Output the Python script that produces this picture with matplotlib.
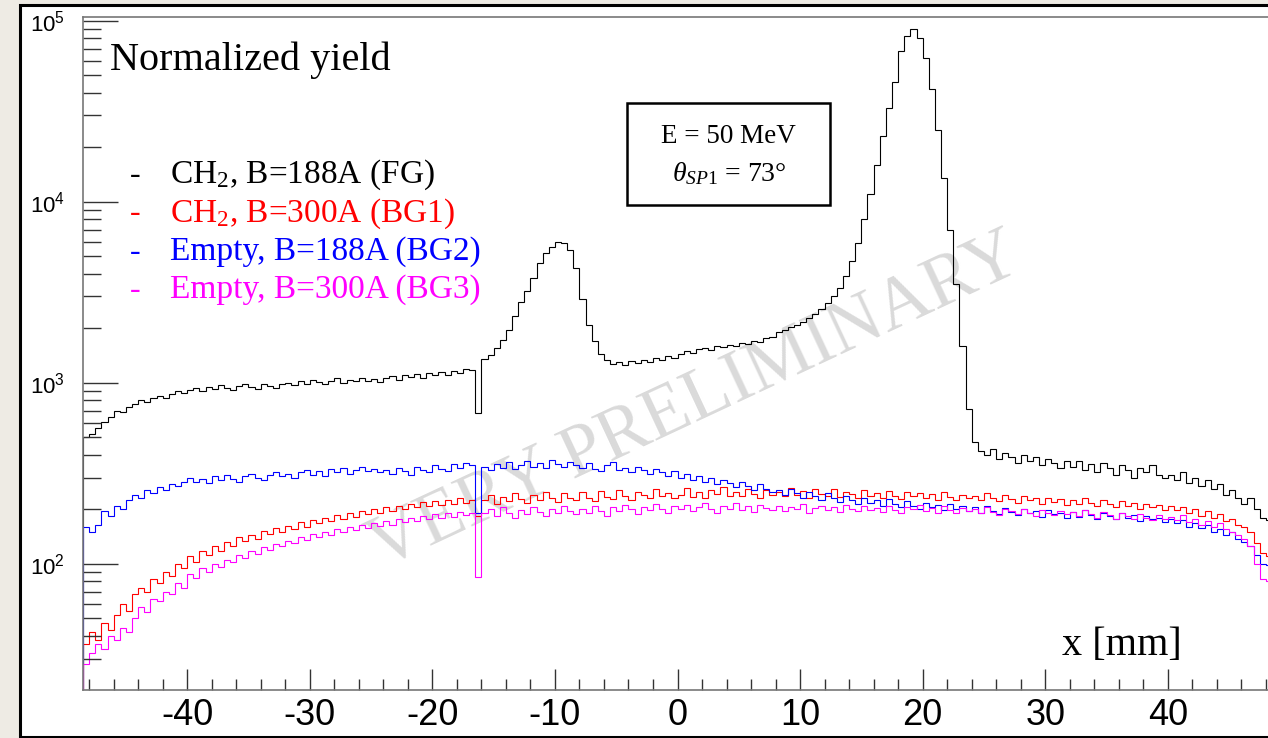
import numpy as np
import matplotlib
matplotlib.use('Agg')
from matplotlib import pyplot as plt
from matplotlib.patches import Rectangle
from matplotlib.ticker import MultipleLocator, LogLocator, FuncFormatter, NullFormatter

plt.rcParams['font.family'] = ['Liberation Sans', 'DejaVu Sans']
plt.rcParams['axes.unicode_minus'] = False
plt.rcParams['mathtext.fontset'] = 'custom'
plt.rcParams['mathtext.rm'] = 'Liberation Serif'
plt.rcParams['mathtext.it'] = 'Liberation Serif:italic'
plt.rcParams['mathtext.bf'] = 'Liberation Serif:bold'

# bin edges in mm (0.5 mm bins)
edges = np.linspace(-48.5, 48.5, 195)

# CH2, B=188A (FG)
fg = [500,
      520, 560, 610, 650, 700, 690, 740, 760, 800, 780, 830, 850, 820, 870, 900, 880,
      910, 940, 900, 950, 930, 970, 940, 910, 960, 990, 950, 930, 980, 960, 940, 990,
      1000, 970, 1020, 990, 1040, 1010, 980, 1030, 1060, 1000, 1040, 1020, 1070, 1030, 1050, 1010,
      1060, 1090, 1040, 1100, 1080, 1120, 1070, 1130, 1110, 1150, 1100, 1170, 1140, 1200, 1180, 680,
      1350, 1420, 1550, 1720, 1950, 2350, 2800, 3200, 3800, 4600, 5200, 5600, 6000, 5900, 5400, 4300,
      2900, 2100, 1700, 1450, 1330, 1270, 1300, 1250, 1320, 1280, 1340, 1300, 1370, 1330, 1400, 1380,
      1450, 1500, 1470, 1530, 1560, 1510, 1590, 1570, 1620, 1600, 1660, 1640, 1710, 1690, 1760, 1800,
      1900, 1960, 2030, 2080, 2170, 2280, 2400, 2550, 2750, 3000, 3350, 3900, 4700, 5900, 8000, 11000,
      16000, 23000, 33000, 46000, 68000, 82000, 90000, 80000, 62000, 42000, 25000, 13500, 7000, 3500, 1600, 720,
      470, 420, 400, 430, 380, 410, 390, 360, 400, 370, 390, 350, 380, 360, 340, 370,
      345, 370, 330, 355, 320, 360, 340, 310, 350, 330, 300, 340, 320, 350, 310, 300,
      310, 290, 320, 280, 300, 270, 290, 260, 275, 240, 255, 230, 215, 230, 200, 180,
      175]

# CH2, B=300A (BG1)
bg1 = [36,
       42, 38, 47, 43, 52, 60, 55, 68, 74, 70, 82, 78, 90, 86, 100, 95,
       110, 102, 118, 112, 125, 118, 132, 126, 140, 133, 145, 138, 152, 146, 158, 150,
       162, 155, 170, 160, 175, 168, 180, 172, 186, 178, 192, 182, 196, 188, 200, 190,
       205, 195, 210, 200, 215, 205, 220, 208, 222, 212, 226, 215, 230, 218, 225, 185,
       225, 240, 215, 235, 222, 245, 228, 218, 240, 225, 250, 230, 220, 245, 232, 225,
       248, 230, 222, 252, 235, 228, 255, 238, 226, 250, 240, 232, 258, 236, 245, 230,
       240, 262, 235, 248, 230, 255, 242, 265, 236, 250, 238, 260, 244, 232, 255, 240,
       248, 236, 262, 240, 252, 232, 258, 244, 238, 260, 235, 250, 242, 230, 255, 238,
       245, 232, 252, 238, 228, 250, 236, 245, 230, 242, 226, 248, 235, 225, 240, 230,
       238, 225, 245, 230, 222, 240, 228, 218, 236, 224, 232, 215, 230, 220, 228, 212,
       225, 215, 232, 218, 210, 226, 215, 205, 222, 210, 218, 200, 215, 205, 212, 198,
       210, 198, 205, 190, 200, 185, 195, 180, 188, 172, 178, 165, 160, 150, 130, 115,
       110]

# Empty, B=188A (BG2)
bg2 = [160,
       150, 165, 195, 185, 210, 200, 225, 240, 230, 255, 245, 265, 255, 275, 270, 285,
       300, 285, 295, 280, 305, 290, 310, 295, 285, 305, 315, 300, 290, 310, 320, 305,
       315, 300, 320, 330, 310, 325, 305, 335, 320, 340, 315, 330, 345, 325, 335, 320,
       330, 315, 340, 325, 310, 345, 330, 320, 350, 335, 325, 355, 340, 360, 350, 190,
       345, 330, 355, 340, 365, 335, 350, 370, 345, 360, 340, 375, 355, 345, 365, 350,
       340, 360, 335, 325, 350, 365, 330, 340, 320, 345, 330, 315, 335, 320, 305, 325,
       300, 315, 290, 305, 285, 300, 275, 290, 280, 265, 285, 270, 255, 275, 260, 250,
       255, 240, 260, 245, 232, 250, 238, 226, 245, 230, 220, 238, 225, 215, 232, 218,
       225, 210, 228, 215, 205, 222, 210, 200, 218, 205, 212, 198, 215, 202, 208, 196,
       205, 192, 210, 196, 188, 204, 194, 186, 200, 190, 196, 182, 198, 188, 192, 180,
       194, 182, 198, 186, 178, 192, 184, 176, 190, 180, 186, 172, 184, 176, 180, 170,
       178, 168, 174, 160, 168, 158, 164, 150, 156, 144, 150, 138, 132, 125, 112, 100,
       98]

# Empty, B=300A (BG3)
bg3 = [28,
       32, 36, 34, 40, 38, 44, 42, 50, 58, 54, 64, 62, 70, 68, 78, 74,
       88, 84, 95, 90, 100, 96, 105, 102, 112, 108, 118, 114, 124, 120, 128, 125,
       134, 130, 140, 136, 146, 140, 150, 145, 156, 150, 160, 154, 164, 158, 168, 162,
       172, 165, 176, 170, 180, 172, 184, 176, 188, 180, 190, 182, 194, 186, 190, 85,
       190, 200, 185, 205, 192, 180, 198, 188, 206, 194, 185, 202, 190, 210, 196, 188,
       200, 190, 210, 195, 185, 205, 196, 212, 200, 188, 206, 198, 214, 202, 192, 208,
       200, 212, 196, 206, 218, 200, 192, 210, 202, 216, 198, 208, 194, 212, 204, 198,
       210, 196, 206, 200, 214, 192, 204, 210, 198, 206, 194, 212, 200, 196, 208, 198,
       204, 194, 210, 198, 190, 206, 200, 212, 196, 204, 192, 208, 198, 190, 204, 196,
       200, 190, 206, 194, 186, 202, 196, 188, 200, 192, 184, 198, 190, 186, 196, 188,
       194, 184, 198, 188, 180, 194, 186, 178, 192, 184, 176, 188, 180, 174, 186, 178,
       182, 174, 186, 170, 178, 164, 172, 160, 168, 156, 150, 145, 138, 125, 100, 82,
       80]

labels = [r'CH$_{\mathregular{2}}$, B=188A (FG)',
          r'CH$_{\mathregular{2}}$, B=300A (BG1)',
          'Empty, B=188A (BG2)',
          'Empty, B=300A (BG3)']
colors = ['black', '#ff0000', '#0000ff', '#ff00ff']
series = [fg, bg1, bg2, bg3]

W, H = 1268, 738
fig = plt.figure(figsize=(W / 100, H / 100), dpi=100, facecolor='#eeebe4')

# white canvas with black border
fig.patches.append(Rectangle((20 / W, 1 / H), 1.2, 732 / H, transform=fig.transFigure,
                             facecolor='white', edgecolor='black', lw=2.2, zorder=-5))

ax = fig.add_axes([83 / W, 48 / H, (1272 - 83) / W, (690 - 17) / H])
ax.set_facecolor('white')

for vals, c in zip(series, colors):
    ax.stairs(vals, edges, baseline=1, color=c, lw=0.8)

ax.set_yscale('log')
ax.set_xlim(-48.5, 48.5)
ax.set_ylim(20.1, 1.05e5)

ax.xaxis.set_major_locator(MultipleLocator(10))
ax.xaxis.set_minor_locator(MultipleLocator(2))
ax.yaxis.set_major_locator(LogLocator(base=10))
ax.yaxis.set_minor_locator(LogLocator(base=10, subs=np.arange(2, 10)))
ax.yaxis.set_major_formatter(FuncFormatter(lambda v, p: r'$\mathregular{10^{%d}}$' % round(np.log10(v))))
ax.yaxis.set_minor_formatter(NullFormatter())

ax.tick_params(axis='both', which='both', direction='in', color='#333333', width=1.0,
               top=False, right=False)
ax.tick_params(axis='y', which='major', length=25, pad=13, labelsize=16)
ax.tick_params(axis='y', which='minor', length=13)
ax.tick_params(axis='x', which='major', length=15, pad=6, labelsize=26)
ax.tick_params(axis='x', which='minor', length=8)
for s in ['left', 'bottom', 'top']:
    ax.spines[s].set_color('#777777')
    ax.spines[s].set_linewidth(1.2)
ax.spines['right'].set_visible(False)

# watermark
ax.text(0.515, 0.428, 'VERY PRELIMINARY', transform=ax.transAxes, rotation=25,
        rotation_mode='anchor', ha='center', va='center', fontsize=53,
        family='Liberation Serif', color='#dadada', zorder=0)

serif = 'Liberation Serif'
fig.text(110 / W, 1 - 70 / H, 'Normalized yield', family=serif, fontsize=29, va='baseline')

for i, (lab, c) in enumerate(zip(labels, colors)):
    yb = 1 - (183 + 38.3 * i) / H
    fig.text(130 / W, yb, '-', color=c, family=serif, fontsize=23, va='baseline')
    fig.text(170 / W, yb, lab, color=c, family=serif, fontsize=24, va='baseline')

# info box
fig.patches.append(Rectangle((627 / W, 1 - 205 / H), 203 / W, 102 / H, transform=fig.transFigure,
                             facecolor='white', edgecolor='black', lw=1.8, zorder=3))
fig.text(728 / W, 1 - 143 / H, 'E = 50 MeV', family=serif, fontsize=19.5, ha='center',
         va='baseline', zorder=4)
fig.text(729 / W, 1 - 181 / H, r'$\theta_{SP1}$ = 73°', family=serif, fontsize=20,
         ha='center', va='baseline', zorder=4)

fig.text(1182 / W, 1 - 655 / H, 'x [mm]', family=serif, fontsize=29, ha='right', va='baseline')

plt.savefig('out.png', dpi=100, facecolor=fig.get_facecolor())
